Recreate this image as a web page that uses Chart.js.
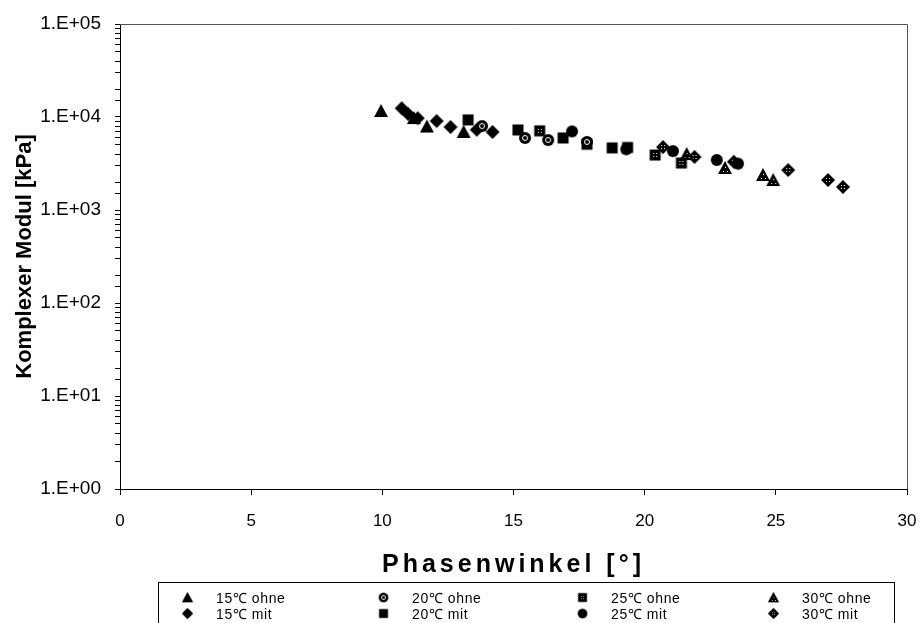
<!DOCTYPE html>
<html>
<head>
<meta charset="utf-8">
<script src="https://cdn.jsdelivr.net/npm/chart.js@4.4.1/dist/chart.umd.min.js"></script>
<style>
  body { margin: 0; background: #fff; }
  #wrap { position: relative; width: 923px; height: 623px; overflow: hidden; }
  #xTitle {
    position: absolute; left: 120px; width: 787px; top: 549px;
    text-align: center; font-family: "Liberation Sans", Arial, sans-serif;
    font-size: 25px; font-weight: bold; letter-spacing: 4px; color: #000;
  }
  #legendBox {
    position: absolute; left: 158px; top: 582px; width: 737px; height: 60px;
    border: 1px solid #000; box-sizing: border-box; background: #fff;
    font-family: "Liberation Sans", Arial, sans-serif; font-size: 14px; letter-spacing: 0.6px; color: #000;
  }
  .item { position: absolute; display: flex; align-items: center; height: 16px; }
  .item img { width: 13px; height: 13px; margin-right: 22px; }
</style>
</head>
<body>
<div id="wrap">
  <canvas id="chart" width="923" height="623"></canvas>
  <div id="xTitle">Phasenwinkel [°]</div>
  <div id="legendBox"></div>
</div>
<script>
// Phasenwinkel [°] / Komplexer Modul [kPa], one pair of arrays per series
const phase15ohne = [9.95, 11.2, 11.7, 13.1];
const modul15ohne = [11600, 9750, 7900, 6900];
const phase15mit = [10.74, 10.98, 11.35, 12.07, 12.6, 13.6, 14.2];
const modul15mit = [12400, 10800, 9700, 9050, 7800, 7300, 6900];
const phase20ohne = [13.8, 15.44, 16.32, 17.8];
const modul20ohne = [8000, 5950, 5650, 5400];
const phase20mit = [13.27, 15.17, 16.89, 18.76, 19.35];
const modul20mit = [9300, 7250, 5950, 4650, 4700];
const phase25ohne = [16.0, 17.8, 20.4, 21.4];
const modul25ohne = [7100, 5100, 3900, 3200];
const phase25mit = [17.23, 19.3, 21.08, 22.75, 23.56];
const modul25mit = [7000, 4500, 4300, 3450, 3150];
const phase30ohne = [21.6, 23.06, 24.51, 24.9];
const modul30ohne = [4000, 2830, 2380, 2100];
const phase30mit = [20.7, 21.9, 23.4, 25.47, 26.99, 27.56];
const modul30mit = [4750, 3720, 3300, 2690, 2100, 1770];

const xTicks = [0, 5, 10, 15, 20, 25, 30];
const yMin = 1, yMax = 100000;

// marker pictures (black shapes, some with white speckles like the scan)
function makeMarker(shape, look) {
  const c = document.createElement('canvas');
  c.width = 16; c.height = 16;
  const g = c.getContext('2d');
  g.fillStyle = '#000';
  g.beginPath();
  if (shape === 'tri') { g.moveTo(8, 1); g.lineTo(15, 14); g.lineTo(1, 14); g.closePath(); }
  else if (shape === 'dia') { g.moveTo(8, 1); g.lineTo(15, 8); g.lineTo(8, 15); g.lineTo(1, 8); g.closePath(); }
  else if (shape === 'sq') { g.rect(2.5, 2.5, 11, 11); }
  else { g.arc(8, 8, 6, 0, Math.PI * 2); }
  g.fill();
  g.fillStyle = '#fff';
  if (look === 'dots') {
    const pts = shape === 'tri' ? [[8, 7], [6, 11], [10, 11]] : [[6, 6], [9, 6], [6, 9], [9, 9]];
    pts.forEach(p => g.fillRect(p[0], p[1], 1, 1));
  } else if (look === 'ring') {
    g.strokeStyle = '#fff'; g.lineWidth = 1;
    g.beginPath(); g.arc(8, 8, 2.5, 0, Math.PI * 2); g.stroke();
  }
  return c;
}

const seriesInfo = [
  { label: '15℃ ohne', xs: phase15ohne, ys: modul15ohne, m: makeMarker('tri', 'solid') },
  { label: '20℃ ohne', xs: phase20ohne, ys: modul20ohne, m: makeMarker('circ', 'ring') },
  { label: '25℃ ohne', xs: phase25ohne, ys: modul25ohne, m: makeMarker('sq', 'dots') },
  { label: '30℃ ohne', xs: phase30ohne, ys: modul30ohne, m: makeMarker('tri', 'dots') },
  { label: '15℃ mit', xs: phase15mit, ys: modul15mit, m: makeMarker('dia', 'solid') },
  { label: '20℃ mit', xs: phase20mit, ys: modul20mit, m: makeMarker('sq', 'solid') },
  { label: '25℃ mit', xs: phase25mit, ys: modul25mit, m: makeMarker('circ', 'solid') },
  { label: '30℃ mit', xs: phase30mit, ys: modul30mit, m: makeMarker('dia', 'dots') }
];

const datasets = seriesInfo.map(s => ({
  label: s.label,
  data: s.xs.map((x, i) => ({ x: x, y: s.ys[i] })),
  pointStyle: s.m,
  pointRadius: 7,
  pointHoverRadius: 7,
  showLine: false
}));

const plotFrame = {
  id: 'plotFrame',
  afterDraw(chart) {
    const a = chart.chartArea, ctx = chart.ctx;
    ctx.save();
    ctx.strokeStyle = '#555';
    ctx.lineWidth = 1;
    ctx.beginPath();
    ctx.moveTo(a.left, a.top + 0.5); ctx.lineTo(a.right + 0.5, a.top + 0.5); ctx.lineTo(a.right + 0.5, a.bottom);
    ctx.stroke();
    ctx.restore();
  }
};

Chart.defaults.font.family = '"Liberation Sans", Arial, sans-serif';
Chart.defaults.color = '#000';

new Chart(document.getElementById('chart'), {
  type: 'scatter',
  data: { datasets },
  options: {
    responsive: false,
    animation: false,
    layout: { padding: { left: 0, right: 16, top: 24, bottom: 0 } },
    plugins: { legend: { display: false }, tooltip: { enabled: false } },
    scales: {
      x: {
        type: 'linear', min: 0, max: 30,
        afterBuildTicks: sc => { sc.ticks = xTicks.map(v => ({ value: v })); },
        afterFit: sc => { sc.height = 134; sc.paddingRight = 0; sc.paddingLeft = 0; },
        grid: { drawOnChartArea: false, tickLength: 6, color: '#000' },
        border: { color: '#000' },
        ticks: { font: { size: 17 }, padding: 16, maxRotation: 0 }
      },
      y: {
        type: 'logarithmic', min: yMin, max: yMax,
        afterFit: sc => { sc.width = 120; sc.paddingTop = 0; sc.paddingBottom = 0; },
        grid: { drawOnChartArea: false, tickLength: 5, color: '#000' },
        border: { color: '#000' },
        ticks: {
          autoSkip: false,
          font: { size: 19 },
          padding: 14,
          callback: v => {
            const l = Math.log10(v);
            if (Math.abs(l - Math.round(l)) > 1e-9) return '';
            return '1.E+' + String(Math.round(l)).padStart(2, '0');
          }
        },
        title: { display: true, text: 'Komplexer Modul [kPa]', font: { size: 22, weight: 'bold' }, padding: { top: 12, bottom: 0 } }
      }
    }
  },
  plugins: [plotFrame]
});

// legend, 4 columns x 2 rows like the original
const legendBox = document.getElementById('legendBox');
const colX = [22, 218, 417, 608];
const rowY = [6, 22];
seriesInfo.forEach((s, i) => {
  const div = document.createElement('div');
  div.className = 'item';
  div.style.left = colX[i % 4] + 'px';
  div.style.top = rowY[Math.floor(i / 4)] + 'px';
  const img = document.createElement('img');
  img.src = s.m.toDataURL();
  const span = document.createElement('span');
  span.textContent = s.label;
  div.appendChild(img);
  div.appendChild(span);
  legendBox.appendChild(div);
});
</script>
</body>
</html>
